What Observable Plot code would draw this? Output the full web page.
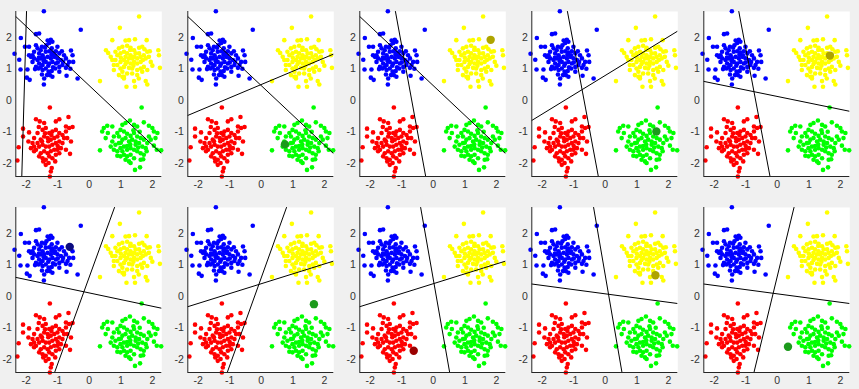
<!DOCTYPE html>
<html><head><meta charset="utf-8">
<script src="https://cdn.jsdelivr.net/npm/d3@7"></script>
<script src="https://cdn.jsdelivr.net/npm/@observablehq/plot@0.6"></script>
<style>
body{margin:0;background:#f0f0f0;}
#fig{position:relative;width:859px;height:389px;background:#f0f0f0;overflow:hidden;}
#fig svg{position:absolute;}
</style></head><body><div id="fig"></div>
<script>
const xTicks = [-2, -1, 0, 1, 2];
const yTicks = [-2, -1, 0, 1, 2];
const xDomain = [-2.33, 2.3];
const yDomain = [-2.42, 2.82];

const bluePts = [[-1.44,2.83],[-0.27,2.24],[-2.17,1.98],[-2.37,1.48],[-2.22,1.29],[-2.18,0.98],[-1.96,0.98],[-1.98,0.72],[-1.89,0.65],[-1.44,0.50],[-1.43,0.69],[-1.17,0.75],[-0.72,0.78],[-0.58,1.58],[-0.53,1.43],[-0.51,1.22],[-0.37,0.69],[-1.69,2.10],[-1.59,2.12],[-1.32,1.90],[-1.22,1.92],[-1.17,1.86],[-1.27,1.82],[-1.36,1.75],[-2.04,1.70],[-1.91,1.70],[-1.69,1.75],
[-1.64,1.65],[-1.54,1.59],[-1.75,1.54],[-1.59,1.49],[-1.48,1.43],[-1.38,1.54],[-1.27,1.56],[-1.17,1.52],[-1.06,1.56],[-0.95,1.49],[-0.87,1.56],[-0.80,1.43],[-0.74,1.33],[-0.64,1.22],[-0.69,1.12],[-0.85,1.12],[-0.95,1.06],[-1.06,1.17],[-1.17,1.22],[-1.27,1.17],[-1.38,1.22],[-1.48,1.12],[-1.59,1.17],[-1.69,1.06],[-1.80,1.22],[-1.85,1.38],[-1.75,1.33],[-1.64,1.28],[-1.54,1.33],[-1.43,1.33],[-1.32,1.38],[-1.22,1.33],[-1.11,1.38],[-1.01,1.33],[-0.90,1.28],[-0.83,1.22],[-1.08,1.01],[-1.19,0.93],[-1.29,0.91],[-1.38,1.01],[-1.48,0.96],[-1.61,1.01],[-1.72,0.99],[-0.95,0.91],[-0.74,1.03],[-1.25,0.80],[-1.34,0.80],[-1.50,0.82],[-1.09,1.43],[-1.19,1.65],[-1.40,1.67],[-1.50,1.70],[-1.80,1.43],[-1.91,1.43],[-1.01,1.70],
[-1.60,1.35],[-1.45,1.25],[-1.20,1.45],[-1.30,1.10],[-1.00,1.20],[-1.55,1.05],[-0.60,1.00],[-1.15,1.05]];

const yellowPts = [[0.68,1.38],[0.83,1.54],[0.94,1.65],[1.05,1.70],[1.20,1.73],[1.31,1.67],[1.42,1.59],[1.58,1.67],[1.68,1.70],[1.75,1.62],[1.84,1.54],[1.73,1.43],[1.63,1.38],[1.52,1.33],[1.42,1.38],[1.31,1.43],[1.20,1.49],[1.10,1.54],[0.99,1.49],[0.89,1.43],[0.83,1.28],[0.99,1.22],[1.10,1.28],[1.20,1.22],[1.31,1.17],[1.42,1.22],[1.52,1.17],[1.63,1.22],[1.79,1.33],[1.89,1.38],[1.95,1.22],[1.73,1.06],[1.63,1.01],[1.52,0.96],[1.36,1.01],[1.26,1.03],[1.10,1.06],[0.99,1.01],[1.05,0.91],[1.20,0.85],[1.36,0.85],[1.52,0.80],[1.68,0.91],[1.84,0.96],[0.94,0.80],[1.47,1.49],[1.15,1.38],[1.26,1.33],[1.36,1.33],[1.58,1.49],[0.73,1.28],[0.89,1.12],[1.10,0.75],
[1.58,2.66],[0.97,2.30],[0.73,1.91],[1.15,1.90],[1.26,1.91],[1.45,1.94],[1.82,1.91],[0.53,1.59],[0.34,0.61],[2.24,1.03],[2.19,1.59],[2.21,1.43],[1.92,1.56],[0.78,1.12],[0.78,0.96],[1.05,0.75],[1.10,0.69],[1.42,0.61],[1.18,0.43],[1.45,0.43],[1.57,0.69],[1.79,0.61],[1.84,0.50],
[1.00,1.35],[1.70,1.28],[1.40,1.10],[1.15,1.15],[0.60,1.50],[2.00,1.10],[1.30,1.60]];

const redPts = [[-1.48,-0.94],[-1.38,-0.88],[-1.27,-1.04],[-1.17,-0.99],[-1.06,-0.94],[-0.95,-1.04],[-0.85,-1.10],[-0.80,-1.20],[-1.01,-1.15],[-1.11,-1.20],[-1.22,-1.25],[-1.32,-1.20],[-1.43,-1.15],[-1.54,-1.25],[-1.64,-1.36],[-1.75,-1.47],[-1.80,-1.36],[-1.69,-1.57],[-1.59,-1.47],[-1.48,-1.41],[-1.38,-1.47],[-1.27,-1.47],[-1.17,-1.41],[-1.06,-1.36],[-0.95,-1.31],[-0.85,-1.36],[-0.90,-1.52],[-1.01,-1.57],[-1.11,-1.57],[-1.22,-1.62],[-1.32,-1.68],[-1.43,-1.62],[-1.54,-1.68],[-1.59,-1.78],[-1.48,-1.84],[-1.38,-1.89],[-1.27,-1.78],[-1.17,-1.84],[-1.06,-1.73],[-0.95,-1.68],[-1.38,-2.05],[-1.29,-1.99],[-1.46,-1.94],[-1.08,-1.94],[-1.75,-1.62],[-1.85,-1.52],[-0.74,-0.99],[-1.64,-1.04],[-1.75,-1.20],
[-1.25,-0.23],[-1.69,-0.60],[-1.57,-0.67],[-1.43,-0.72],[-1.06,-0.67],[-0.95,-0.60],[-0.66,-0.53],[-0.74,-0.83],[-0.64,-0.88],[-0.53,-0.85],[-2.10,-0.90],[-2.10,-1.15],[-2.24,-1.49],[-2.28,-1.91],[-1.25,-2.42],[-1.19,-2.15],[-1.22,-2.26],[-1.91,-1.02],[-1.93,-1.31],[-0.58,-1.31],[-0.61,-1.70],[-0.74,-1.57],
[-1.30,-1.30],[-1.20,-1.10],[-1.50,-1.30],[-1.00,-1.45],[-1.40,-1.05],[-1.60,-0.85],[-0.70,-1.20]];

const greenPts = [[0.78,-1.15],[0.89,-1.04],[0.99,-0.94],[1.10,-0.99],[1.20,-1.06],[1.31,-1.13],[1.42,-1.04],[1.52,-1.15],[1.63,-1.20],[1.73,-1.25],[1.84,-1.36],[1.79,-1.52],[1.68,-1.47],[1.58,-1.36],[1.47,-1.31],[1.36,-1.25],[1.26,-1.31],[1.15,-1.20],[1.05,-1.25],[0.94,-1.36],[0.83,-1.41],[0.78,-1.57],[0.89,-1.62],[0.99,-1.52],[1.10,-1.47],[1.20,-1.57],[1.31,-1.52],[1.42,-1.57],[1.52,-1.62],[1.63,-1.68],[1.73,-1.73],[1.31,-1.73],[1.20,-1.78],[1.10,-1.73],[0.99,-1.78],[0.89,-1.76],[1.42,-1.84],[1.26,-1.94],[1.15,-1.89],[0.68,-1.47],[0.73,-1.31],[0.94,-1.15],[1.05,-1.62],[1.47,-1.41],[1.89,-1.15],[1.82,-1.62],
[1.66,-0.23],[0.34,-1.59],[2.28,-1.59],[1.45,-2.21],[1.61,-2.13],[1.63,-1.89],[1.71,-1.87],[1.31,-1.99],[0.46,-0.88],[0.57,-0.81],[0.73,-0.83],[0.41,-0.99],[0.59,-1.04],[0.52,-1.20],[1.05,-0.78],[1.15,-0.72],[1.29,-0.64],[1.42,-0.78],[1.52,-0.83],[1.73,-0.70],[1.89,-0.81],[2.00,-0.88],[2.05,-0.99],[2.16,-1.04],[2.10,-1.20],[1.95,-1.25],[2.05,-1.44],[2.14,-1.57],
[1.30,-1.40],[1.00,-1.35],[1.60,-1.00],[1.20,-1.45],[1.55,-1.50],[1.40,-0.95]];

// two separating lines per panel (endpoints in data units)
const lineA = [
  [[-2.33,2.66],[2.30,-1.70]],
  [[-2.33,2.66],[2.30,-1.70]],
  [[-2.33,2.66],[2.30,-1.70]],
  [[-2.33,-0.64],[2.30,2.20]],
  [[-2.33,0.60],[2.30,-0.35]],
  [[-2.33,0.60],[2.30,-0.38]],
  [[-2.33,-0.33],[2.30,1.12]],
  [[-2.33,-0.33],[2.30,1.12]],
  [[-2.33,0.39],[2.30,-0.23]],
  [[-2.33,0.39],[2.30,-0.23]]
];
const lineB = [
  [[-1.99,2.82],[-2.14,-2.42]],
  [[-2.33,-0.48],[2.30,1.47]],
  [[-1.20,2.82],[-0.24,-2.42]],
  [[-1.20,2.82],[-0.22,-2.42]],
  [[-1.22,2.82],[-0.23,-2.42]],
  [[0.80,2.82],[-1.10,-2.42]],
  [[0.80,2.82],[-1.08,-2.42]],
  [[-0.40,2.82],[0.52,-2.42]],
  [[-0.37,2.82],[0.53,-2.42]],
  [[0.53,2.82],[-0.74,-2.42]]
];
// highlighted point per panel (cluster it belongs to)
const hlX = [null, 0.75, 1.82, 1.62, 1.67, -0.62, 1.67, -0.62, 1.59, 0.34];
const hlY = [null, -1.40, 1.92, -0.99, 1.42, 1.57, -0.25, -1.73, 0.67, -1.60];
const hlCluster = [null, "green", "yellow", "green", "yellow", "blue", "green", "red", "yellow", "green"];

const clusterColor = {blue: "#0000ff", yellow: "#ffff00", red: "#ff0000", green: "#00ff00"};
const hlColor = {blue: "#0b0b80", yellow: "#aea400", red: "#9a0000", green: "#1c9a1c"};

const clusters = {blue: bluePts, yellow: yellowPts, red: redPts, green: greenPts};
const fig = document.getElementById("fig");

for (let i = 0; i < 10; i++) {
  const col = i % 5, row = Math.floor(i / 5);
  const lines = [
    ...lineA[i].map(([x, y]) => ({x, y, id: "a"})),
    ...lineB[i].map(([x, y]) => ({x, y, id: "b"}))
  ];
  const marks = [Plot.frame({fill: "white", stroke: "none"})];
  for (const k of ["blue", "yellow", "red", "green"]) {
    marks.push(Plot.dot(clusters[k], {x: d => d[0], y: d => d[1], r: 2.3, fill: clusterColor[k], stroke: "none"}));
  }
  marks.push(Plot.line(lines, {x: "x", y: "y", z: "id", stroke: "black", strokeWidth: 1, clip: true}));
  if (hlCluster[i]) {
    marks.push(Plot.dot([{x: hlX[i], y: hlY[i]}], {x: "x", y: "y", r: 4.2, fill: hlColor[hlCluster[i]], stroke: "none"}));
  }
  marks.push(
    Plot.axisX({ticks: xTicks, tickSize: 0, tickPadding: 4, tickFormat: d => String(d), fill: "#333"}),
    Plot.axisY({ticks: yTicks, tickSize: 0, tickPadding: 4, tickFormat: d => String(d), fill: "#333"}),
    Plot.ruleX([xDomain[0]], {stroke: "#262626", strokeWidth: 1}),
    Plot.ruleY([yDomain[0]], {stroke: "#262626", strokeWidth: 1})
  );
  const svg = Plot.plot({
    width: 172, height: 195,
    marginLeft: 15.3, marginRight: 10.7, marginTop: 11, marginBottom: 19,
    x: {domain: xDomain, label: null},
    y: {domain: yDomain, label: null},
    style: {background: "transparent", fontFamily: "'Liberation Sans', Arial, sans-serif", fontSize: "10.5px", color: "#333", overflow: "visible"},
    marks
  });
  svg.style.left = (172 * col) + "px";
  svg.style.top = (row * 195.7) + "px";
  fig.appendChild(svg);
}
</script></body></html>
